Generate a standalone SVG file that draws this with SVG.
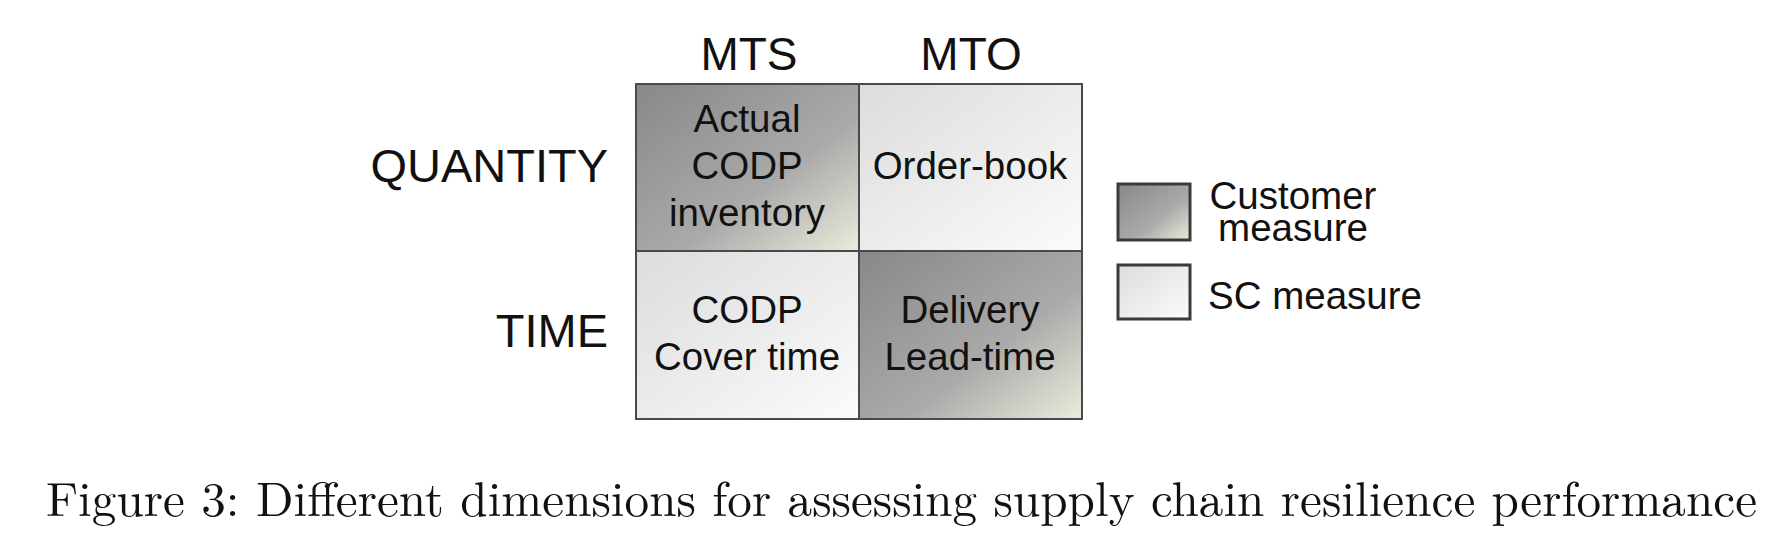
<svg xmlns="http://www.w3.org/2000/svg" width="1791" height="546" viewBox="0 0 1791 546">
<defs>
<linearGradient id="dark" x1="0" y1="0" x2="1" y2="1">
<stop offset="0" stop-color="#888888"/>
<stop offset="0.6" stop-color="#aaaaaa"/>
<stop offset="1" stop-color="#ebecdc"/>
</linearGradient>
<linearGradient id="light" x1="0" y1="0" x2="1" y2="1">
<stop offset="0" stop-color="#dcdcdc"/>
<stop offset="1" stop-color="#fbfbfb"/>
</linearGradient>
<style>
.cell{stroke:#4a4a4a;stroke-width:2}
.lg{stroke:#3a3a3a;stroke-width:3}
.t{font-family:"Liberation Sans",Arial,sans-serif;fill:#111;text-anchor:middle}
.c{font-size:38.5px}
.h{font-size:46px}
.l{font-size:47px;text-anchor:end}
.g{font-size:38.5px}
.cap{font-family:"Latin Modern Roman","Liberation Serif","Times New Roman",serif;font-size:48px;fill:#111}
</style>
</defs>
<rect width="1791" height="546" fill="#fff"/>
<g id="headers">
<text class="t h" x="749" y="70">MTS</text>
<text class="t h" x="971" y="70">MTO</text>
<text class="t l" x="608" y="182">QUANTITY</text>
<text class="t l" x="608" y="347">TIME</text>
</g>
<g id="cell-mts-quantity">
<rect class="cell" x="636" y="84" width="223" height="167" fill="url(#dark)"/>
<text class="t c" x="747" y="132">Actual</text>
<text class="t c" x="747" y="179">CODP</text>
<text class="t c" x="747" y="226">inventory</text>
</g>
<g id="cell-mto-quantity">
<rect class="cell" x="859" y="84" width="223" height="167" fill="url(#light)"/>
<text class="t c" x="970" y="179">Order-book</text>
</g>
<g id="cell-mts-time">
<rect class="cell" x="636" y="251" width="223" height="168" fill="url(#light)"/>
<text class="t c" x="747" y="323">CODP</text>
<text class="t c" x="747" y="370">Cover time</text>
</g>
<g id="cell-mto-time">
<rect class="cell" x="859" y="251" width="223" height="168" fill="url(#dark)"/>
<text class="t c" x="970" y="323">Delivery</text>
<text class="t c" x="970" y="370">Lead-time</text>
</g>
<g id="legend-customer">
<rect class="lg" x="1118" y="184" width="72" height="56" fill="url(#dark)"/>
<text class="t g" x="1293" y="209"><tspan x="1293" y="209">Customer</tspan><tspan x="1293" y="241">measure</tspan></text>
</g>
<g id="legend-sc">
<rect class="lg" x="1118" y="265" width="72" height="54" fill="url(#light)"/>
<text class="t g" x="1208" y="309" style="text-anchor:start">SC measure</text>
</g>
<g id="connectors"></g>
<text class="cap" x="46" y="516" textLength="1711" lengthAdjust="spacingAndGlyphs">Figure 3: Different dimensions for assessing supply chain resilience performance</text>
</svg>
